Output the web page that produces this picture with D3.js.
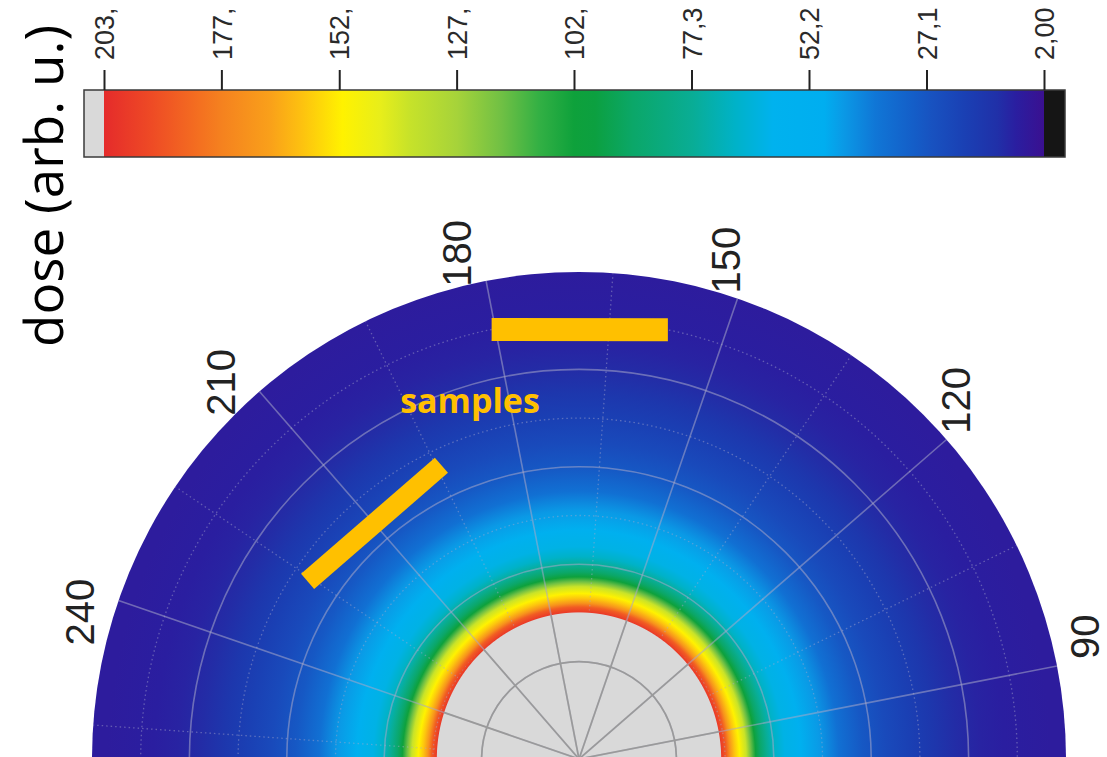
<!DOCTYPE html>
<html>
<head>
<meta charset="utf-8">
<script src="https://cdn.jsdelivr.net/npm/d3@7"></script>
<style>
  html, body { margin: 0; padding: 0; background: #ffffff; }
  svg { display: block; }
</style>
</head>
<body>
<svg id="chart" width="1107" height="757"></svg>
<script>
// ---------------- DATA ----------------
// colour bar ticks (labels are clipped at the top of the figure in the original)
const cbarTickValues = [203.0, 177.9, 152.7, 127.6, 102.5, 77.38, 52.25, 27.13, 2.00];
const cbarTickLabels = ["203,", "177,", "152,", "127,", "102,", "77,3", "52,2", "27,1", "2,00"];
const cbarMin = 2.00, cbarMax = 203.0;

// colour map
const cmapValues = [2, 8, 12, 19, 26, 30, 38, 45, 49, 60, 68, 77, 83, 90, 98, 102.5, 110, 118, 127.5, 137.5, 144, 152, 161, 167.5, 177.7, 182.5, 193, 203];
const cmapColors = ["#3a1090", "#2a1ea0", "#2030a8", "#1a40b4", "#1852c0", "#145ec8", "#1076d6", "#0a9ae6",
                    "#00aef0", "#00b2ee", "#00b2c8", "#09ad96", "#0aaa80", "#0ba768", "#0ca040", "#0ea13b",
                    "#33b044", "#70c044", "#a6d33a", "#c6e22a", "#e8ee1a", "#fff200", "#fdc010", "#f9a01a",
                    "#f5821f", "#f47020", "#ee4a25", "#e52b2b"];

// radial dose profile (radius in axis units, dose in arb. u.)
const profileR    = [0,   1.50, 1.51, 1.56, 1.60, 1.65, 1.70, 1.77, 1.82, 1.87, 1.92, 1.99, 2.08, 2.18, 2.35, 2.55, 2.75, 3.00, 3.25, 3.50, 3.75, 4.00, 4.25, 4.50, 5.00];
const profileDose = [400, 240,  198,  188,  172,  160,  152,  138,  118,  102,  90,   78,   68,   62,   55,   45,   36,   28,   23,   19,   15,   11,   9,    8,    7];
const doseAspect = 0.97;   // dose pattern slightly narrower across than along the 169° axis

// polar axes
const rMax = 5;
const rMajor = [1, 2, 3, 4];
const rMinor = [0.5, 1.5, 2.5, 3.5, 4.5];
const thetaMajor = [0, 30, 60, 90, 120, 150, 180, 210, 240, 270, 300, 330];
const thetaMinor = [15, 45, 75, 105, 135, 165, 195, 225, 255, 285, 315, 345];
const thetaLabels = [90, 120, 150, 180, 210, 240];

// sample positions (start angle, end angle, radius)
const sampleStart = [180.5, 225.8];
const sampleEnd   = [157.3, 194.1];
const sampleR     = [4.50, 3.33];
const sampleLabel = "samples";

// ---------------- DRAWING ----------------
const svg = d3.select("#chart");
const defs = svg.append("defs");
const FONT = "'Liberation Sans', Arial, sans-serif";

const cmap = d3.scaleLinear().domain(cmapValues).range(cmapColors).interpolate(d3.interpolateRgb).clamp(true);
const overColor = "#d9d9d9", underColor = "#151515";
const doseColor = v => v > cbarMax ? overColor : (v < cbarMin ? underColor : cmap(v));

// ---- colour bar ----
const cbX0 = 84, cbX1 = 1065, cbY0 = 90, cbY1 = 157;
const xCb = d3.scaleLinear().domain([cbarMax, cbarMin]).range([104, 1044]);

const cbStops = cmapValues.map((v, i) => ({ v, c: cmapColors[i] }))
  .sort((a, b) => xCb(a.v) - xCb(b.v));
const lg = defs.append("linearGradient").attr("id", "cbGrad")
  .attr("gradientUnits", "userSpaceOnUse")
  .attr("x1", xCb(cbarMax)).attr("x2", xCb(cbarMin)).attr("y1", 0).attr("y2", 0);
lg.selectAll("stop").data(cbStops).join("stop")
  .attr("offset", d => (xCb(d.v) - xCb(cbarMax)) / (xCb(cbarMin) - xCb(cbarMax)))
  .attr("stop-color", d => d.c);

svg.append("rect").attr("x", cbX0).attr("y", cbY0).attr("width", xCb(cbarMax) - cbX0).attr("height", cbY1 - cbY0).attr("fill", overColor);
svg.append("rect").attr("x", xCb(cbarMax)).attr("y", cbY0).attr("width", xCb(cbarMin) - xCb(cbarMax)).attr("height", cbY1 - cbY0).attr("fill", "url(#cbGrad)");
svg.append("rect").attr("x", xCb(cbarMin)).attr("y", cbY0).attr("width", cbX1 - xCb(cbarMin)).attr("height", cbY1 - cbY0).attr("fill", underColor);
svg.append("rect").attr("x", cbX0).attr("y", cbY0).attr("width", cbX1 - cbX0).attr("height", cbY1 - cbY0)
  .attr("fill", "none").attr("stroke", "#3a3a3a").attr("stroke-width", 1.5);

const cbAxis = svg.append("g").attr("transform", `translate(0,${cbY0})`)
  .call(d3.axisTop(xCb).tickValues(cbarTickValues).tickFormat((d, i) => cbarTickLabels[i]).tickSize(20).tickPadding(0));
cbAxis.select(".domain").remove();
cbAxis.selectAll(".tick line").attr("stroke", "#222").attr("stroke-width", 2);
cbAxis.selectAll(".tick text")
  .attr("transform", "rotate(-90)")
  .attr("x", 30).attr("y", 0).attr("dy", "0.36em")
  .attr("text-anchor", "start")
  .attr("fill", "#2a2a2a")
  .style("font-family", FONT).style("font-size", "27px");

svg.append("text")
  .attr("transform", "translate(63,347) rotate(-90)")
  .attr("text-anchor", "start")
  .style("font-family", "'Open Sans', 'Noto Sans', sans-serif")
  .style("font-size", "53px")
  .attr("fill", "#000")
  .text("dose (arb. u.)");

// ---- polar plot ----
const cx = 579, cy = 759;
const rScale = d3.scaleLinear().domain([0, rMax]).range([0, 487]);
const angleOffset = 169;
const toAngle = t => (angleOffset - t) * Math.PI / 180;
const pt = (t, r) => [cx + rScale(r) * Math.sin(toAngle(t)), cy - rScale(r) * Math.cos(toAngle(t))];

const rg = defs.append("radialGradient").attr("id", "doseGrad")
  .attr("gradientUnits", "userSpaceOnUse")
  .attr("cx", cx).attr("cy", cy).attr("fx", cx).attr("fy", cy).attr("r", rScale(rMax))
  .attr("gradientTransform", `translate(${cx},${cy}) scale(${doseAspect},1) translate(${-cx},${-cy})`);
rg.selectAll("stop").data(profileR).join("stop")
  .attr("offset", d => rScale(d) / rScale(rMax))
  .attr("stop-color", (d, i) => doseColor(profileDose[i]));

svg.append("circle").attr("cx", cx).attr("cy", cy).attr("r", rScale(rMax)).attr("fill", "url(#doseGrad)");

// inner (over-range) region for darker grid lines
const edgeIdx = profileDose.findIndex(d => d <= cbarMax);
const edgeR = profileR[edgeIdx];
defs.append("clipPath").attr("id", "innerClip")
  .append("ellipse").attr("cx", cx).attr("cy", cy).attr("rx", rScale(edgeR) * doseAspect).attr("ry", rScale(edgeR));
const mask = defs.append("mask").attr("id", "outerMask");
mask.append("rect").attr("x", 0).attr("y", 0).attr("width", 1107).attr("height", 757).attr("fill", "#fff");
mask.append("ellipse").attr("cx", cx).attr("cy", cy).attr("rx", rScale(edgeR) * doseAspect + 2).attr("ry", rScale(edgeR) + 2).attr("fill", "#000");

const outerClipId = "outerCircle";
defs.append("clipPath").attr("id", outerClipId).append("circle").attr("cx", cx).attr("cy", cy).attr("r", rScale(rMax));

function drawGrid(g, circles, spokes) {
  g.selectAll("circle.gc").data(circles).join("circle").attr("class", "gc")
    .attr("cx", cx).attr("cy", cy).attr("r", d => rScale(d)).attr("fill", "none");
  g.selectAll("line.gs").data(spokes).join("line").attr("class", "gs")
    .attr("x1", cx).attr("y1", cy)
    .attr("x2", d => pt(d, rMax)[0]).attr("y2", d => pt(d, rMax)[1]);
}

const minorG = svg.append("g").attr("clip-path", `url(#${outerClipId})`).attr("mask", "url(#outerMask)")
  .attr("stroke", "#a8a8cc").attr("stroke-opacity", 0.45).attr("stroke-width", 1.3).attr("stroke-dasharray", "1.5 3");
drawGrid(minorG, rMinor, thetaMinor);

const majorG = svg.append("g").attr("clip-path", `url(#${outerClipId})`)
  .attr("stroke", "#a8a8c8").attr("stroke-opacity", 0.55).attr("stroke-width", 1.6);
drawGrid(majorG, rMajor, thetaMajor);

const innerG = svg.append("g").attr("clip-path", "url(#innerClip)")
  .attr("stroke", "#9a9a9a").attr("stroke-width", 1.7);
drawGrid(innerG, rMajor, thetaMajor);

// angle labels
const labelR = 5.34, labelShift = 2.6;
svg.selectAll("text.tl").data(thetaLabels).join("text").attr("class", "tl")
  .attr("transform", d => { const p = pt(d + labelShift, labelR); return `translate(${p[0]},${p[1]}) rotate(-90)`; })
  .attr("text-anchor", "middle").attr("dy", "0.36em")
  .attr("fill", "#222")
  .style("font-family", FONT).style("font-size", "40px")
  .text(d => d);

// sample bars
const sampleWidths = [23, 20];
svg.selectAll("line.sample").data(sampleR).join("line").attr("class", "sample")
  .attr("x1", (d, i) => pt(sampleStart[i], d)[0]).attr("y1", (d, i) => pt(sampleStart[i], d)[1])
  .attr("x2", (d, i) => pt(sampleEnd[i], d)[0]).attr("y2", (d, i) => pt(sampleEnd[i], d)[1])
  .attr("stroke", "#ffc000").attr("stroke-width", (d, i) => sampleWidths[i]).attr("stroke-linecap", "butt");

svg.append("text")
  .attr("x", 470).attr("y", 413)
  .attr("text-anchor", "middle")
  .attr("fill", "#ffc000")
  .style("font-family", "'Open Sans', 'Noto Sans', sans-serif")
  .style("font-weight", "bold")
  .style("font-size", "34px")
  .text(sampleLabel);
</script>
</body>
</html>
